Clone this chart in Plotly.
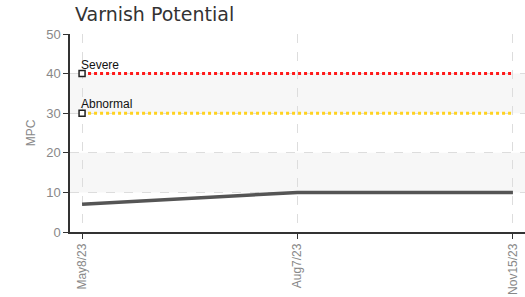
import plotly.graph_objects as go

dates = ["May8/23", "Aug7/23", "Nov15/23"]
mpc = [7, 10, 10]
severe_level = [40, 40, 40]
abnormal_level = [30, 30, 30]
y_ticks = [0, 10, 20, 30, 40, 50]
bands = [(10, 20), (30, 40)]

xi = list(range(len(dates)))

fig = go.Figure()

shapes = []
for y0, y1 in bands:
    shapes.append(dict(type="rect", xref="paper", yref="y", x0=0, x1=1, y0=y0, y1=y1,
                       fillcolor="#f7f7f7", line=dict(width=0), layer="below"))

fig.add_trace(go.Scatter(x=xi, y=severe_level, mode="lines",
                         line=dict(color="#ff1a1a", width=3, dash="dot"), hoverinfo="skip"))
fig.add_trace(go.Scatter(x=xi, y=abnormal_level, mode="lines",
                         line=dict(color="#ffd21f", width=3, dash="dot"), hoverinfo="skip"))
fig.add_trace(go.Scatter(x=xi, y=mpc, mode="lines",
                         line=dict(color="#555555", width=3.5)))
fig.add_trace(go.Scatter(x=[xi[0], xi[0]], y=[severe_level[0], abnormal_level[0]], mode="markers",
                         marker=dict(symbol="square", size=6, color="white",
                                     line=dict(width=1.5, color="#222")), hoverinfo="skip"))

annotations = []
for lab, yv in [("Severe", severe_level[0]), ("Abnormal", abnormal_level[0])]:
    annotations.append(dict(x=xi[0], y=yv, xref="x", yref="y", text=lab, showarrow=False,
                            xanchor="left", yanchor="bottom", xshift=-3, yshift=0,
                            font=dict(family="Liberation Sans Narrow, Arial Narrow, sans-serif",
                                      size=12, color="#111")))

tick_font = "Liberation Sans Narrow, Arial Narrow, sans-serif"

fig.update_layout(
    width=525, height=297,
    margin=dict(l=70, r=0, t=34, b=65),
    paper_bgcolor="white", plot_bgcolor="white",
    showlegend=False,
    shapes=shapes,
    annotations=annotations,
    title=dict(text="Varnish Potential", x=75/525, xanchor="left", y=1 - 14/297, yanchor="middle",
               font=dict(family="DejaVu Sans, Verdana, sans-serif", size=19, color="#333")),
    xaxis=dict(tickmode="array", tickvals=xi, ticktext=dates, range=[-0.056, 2.056],
               tickangle=-90, automargin=False,
               showgrid=True, gridcolor="#dddddd", griddash="dash", gridwidth=1,
               showline=True, linecolor="#333", linewidth=1.5, ticks="outside", ticklen=5,
               tickcolor="#333", zeroline=False,
               tickfont=dict(family=tick_font, size=12, color="#888")),
    yaxis=dict(tickmode="array", tickvals=y_ticks, range=[0, 50], automargin=False,
               showgrid=True, gridcolor="#dddddd", griddash="dash", gridwidth=1,
               showline=True, linecolor="#333", linewidth=1.5, ticks="outside", ticklen=5,
               tickcolor="#333", zeroline=False,
               title=dict(text="MPC", standoff=8,
                          font=dict(family=tick_font, size=12, color="#888")),
               tickfont=dict(family=tick_font, size=13, color="#888")),
)

fig.write_html("out.html", config={"displayModeBar": False},
               post_script="document.body.style.margin='0';document.body.style.overflow='hidden';")
